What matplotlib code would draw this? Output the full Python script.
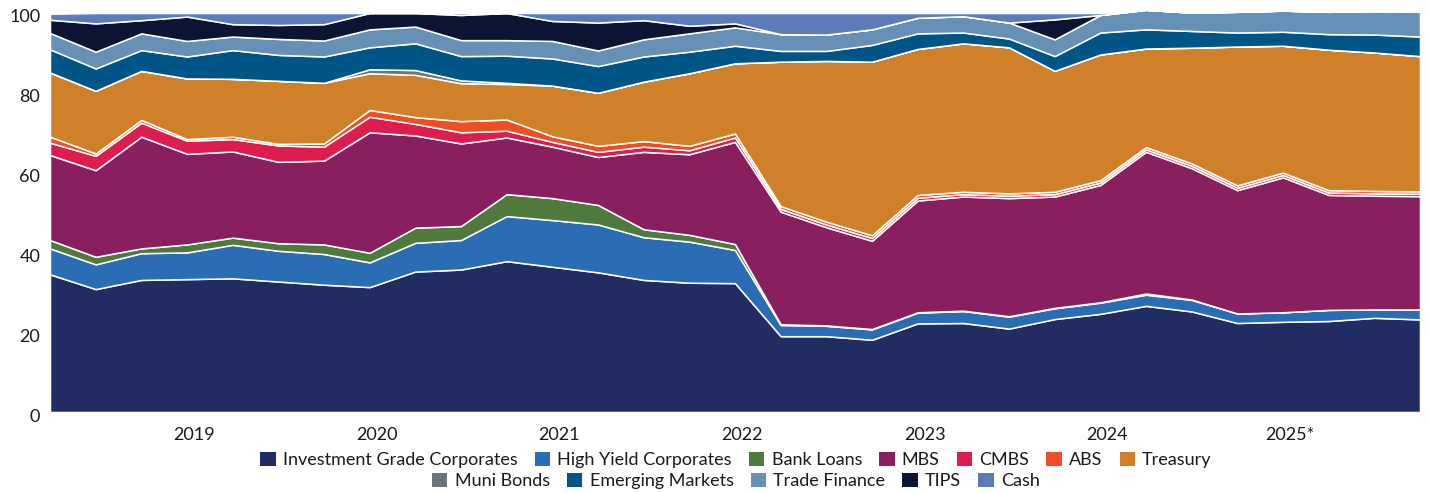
import matplotlib
matplotlib.use('Agg')
import matplotlib.pyplot as plt
import matplotlib.transforms as mtransforms
from matplotlib.patches import Patch
import numpy as np

plt.rcParams['font.family'] = ['Lato', 'DejaVu Sans']

# quarterly allocation, % of portfolio
quarters = np.arange(31)
years = ['2019', '2020', '2021', '2022', '2023', '2024', '2025*']

ig_corp = [34.5, 30.8, 33.1, 33.3, 33.5, 32.7, 31.9, 31.3, 35.2, 35.7, 37.8, 36.4, 35.0, 33.1, 32.4, 32.3,
           19.0, 19.0, 18.1, 22.2, 22.3, 20.9, 23.3, 24.6, 26.6, 25.2, 22.3, 22.6, 22.8, 23.6, 23.2]
hy_corp = [6.5, 6.2, 6.7, 6.7, 8.4, 7.7, 7.7, 6.2, 7.2, 7.4, 11.3, 11.7, 12.0, 10.7, 10.3, 8.3,
           2.8, 2.6, 2.6, 2.7, 3.0, 3.0, 2.7, 2.8, 2.8, 2.9, 2.4, 2.4, 2.8, 2.1, 2.5]
bank_loans = [2.1, 1.9, 1.2, 2.0, 1.8, 1.9, 2.4, 2.4, 3.8, 3.5, 5.5, 5.5, 4.9, 2.0, 1.7, 1.5,
              0.2, 0.1, 0.1, 0.1, 0.1, 0.1, 0.1, 0.1, 0.3, 0.1, 0.0, 0.0, 0.0, 0.0, 0.0]
mbs = [21.3, 21.7, 28.0, 22.7, 21.6, 20.4, 21.0, 30.2, 23.1, 20.7, 14.2, 12.9, 12.0, 19.4, 20.2, 25.6,
       28.2, 24.6, 22.1, 28.0, 28.6, 29.6, 27.9, 29.4, 35.5, 32.9, 30.9, 33.8, 28.8, 28.5, 28.4]
cmbs = [3.1, 3.6, 3.5, 3.3, 3.1, 4.1, 3.5, 3.9, 2.9, 2.8, 1.7, 1.2, 1.3, 1.3, 1.0, 1.1,
        0.7, 0.7, 0.7, 0.7, 0.6, 0.6, 0.6, 0.6, 0.6, 0.6, 0.6, 0.6, 0.6, 0.6, 0.6]
abs_ = [1.5, 0.6, 0.7, 0.4, 0.6, 0.4, 0.8, 1.7, 1.7, 2.8, 2.8, 1.4, 1.5, 1.4, 1.1, 1.0,
        0.7, 0.7, 0.7, 0.7, 0.6, 0.6, 0.6, 0.6, 0.6, 0.6, 0.6, 0.6, 0.6, 0.6, 0.6]
treasury = [16.1, 15.7, 12.3, 15.2, 14.5, 15.8, 15.2, 9.2, 10.6, 9.5, 8.9, 12.7, 13.3, 14.9, 18.2, 17.6,
            36.2, 40.3, 43.5, 36.6, 37.2, 36.6, 30.3, 31.5, 24.7, 29.0, 34.8, 31.8, 35.2, 34.7, 33.9]
muni = [0.0, 0.0, 0.0, 0.0, 0.0, 0.0, 0.0, 1.0, 1.2, 0.7, 0.3, 0.0, 0.0, 0.0, 0.0, 0.0,
        0.0, 0.0, 0.0, 0.0, 0.0, 0.0, 0.0, 0.0, 0.0, 0.0, 0.0, 0.0, 0.0, 0.0, 0.0]
em = [5.8, 5.6, 5.2, 5.5, 7.2, 6.5, 6.6, 5.5, 6.7, 6.1, 6.8, 6.8, 6.7, 6.3, 5.4, 4.4,
      2.7, 2.5, 4.2, 3.9, 2.7, 2.2, 3.7, 5.5, 4.8, 4.2, 3.5, 3.5, 3.9, 4.5, 4.9]
trade_fin = [4.1, 4.2, 4.2, 3.9, 3.4, 4.0, 4.0, 4.5, 4.2, 4.0, 3.9, 4.4, 3.9, 4.3, 4.6, 4.6,
             4.2, 4.1, 3.9, 3.9, 4.1, 4.0, 4.2, 4.4, 4.9, 4.6, 5.2, 5.3, 5.6, 5.9, 6.3]
tips = [3.3, 7.1, 3.3, 6.1, 3.1, 3.5, 4.1, 4.1, 3.4, 6.3, 6.8, 5.0, 7.0, 4.8, 1.9, 1.0,
        0.0, 0.0, 0.0, 0.0, 0.0, 0.0, 5.0, 0.0, 0.0, 0.0, 0.0, 0.0, 0.0, 0.0, 0.0]
cash = [1.5, 2.6, 1.8, 0.9, 2.8, 3.0, 2.8, 0.0, 0.0, 0.5, 0.0, 2.0, 2.4, 1.8, 3.2, 2.6,
        5.3, 5.4, 4.1, 1.2, 0.8, 2.4, 1.6, 0.5, 0.0, 0.0, 0.0, 0.0, 0.0, 0.0, 0.0]

labels = ['Investment Grade Corporates', 'High Yield Corporates', 'Bank Loans', 'MBS', 'CMBS',
          'ABS', 'Treasury', 'Muni Bonds', 'Emerging Markets', 'Trade Finance', 'TIPS', 'Cash']
colors = ['#232B63', '#2A6DB5', '#4E7A3C', '#8A1F5F', '#DD1C50', '#EE4E24', '#D08028',
          '#6E7479', '#005587', '#6690B6', '#0B1433', '#5C7BBB']
series = [ig_corp, hy_corp, bank_loans, mbs, cmbs, abs_, treasury, muni, em, trade_fin, tips, cash]

fig = plt.figure(figsize=(14.29, 4.93), dpi=100)
ax = fig.add_axes([50 / 1429, 1 - 412 / 493, 1370 / 1429, 399 / 493])

polys = ax.stackplot(quarters, *series, colors=colors, edgecolor='white', linewidth=1.1)
for p in polys:
    p.set_clip_on(False)

ax.set_xlim(0, 30)
ax.set_ylim(0, 100)
ax.set_yticks([0, 20, 40, 60, 80, 100])
ax.set_xticks([3.15 + 4 * i for i in range(len(years))])
ax.set_xticklabels(years)
ax.tick_params(axis='both', length=0, labelsize=13, colors='#1a1a1a')
ax.tick_params(axis='x', pad=11)
ax.tick_params(axis='y', pad=7)
for s in ax.spines.values():
    s.set_visible(False)

# nudge y labels down a touch
offset = mtransforms.ScaledTranslation(0, -3 / 100, fig.dpi_scale_trans)
for lbl in ax.get_yticklabels():
    lbl.set_transform(lbl.get_transform() + offset)

handles = [Patch(facecolor=c, edgecolor='none', label=l) for c, l in zip(colors, labels)]
leg_kw = dict(frameon=False, fontsize=13, handlelength=0.85, handleheight=0.85,
              handletextpad=0.4, columnspacing=0.95, borderaxespad=0, borderpad=0)
leg1 = fig.legend(handles=handles[:7], ncol=7, loc='center', bbox_to_anchor=(0.515, 1 - 460 / 493), **leg_kw)
leg2 = fig.legend(handles=handles[7:], ncol=5, loc='center', bbox_to_anchor=(0.515, 1 - 481 / 493), **leg_kw)
for leg in (leg1, leg2):
    for t in leg.get_texts():
        t.set_color('#1a1a1a')

fig.savefig('out.png', dpi=100)
